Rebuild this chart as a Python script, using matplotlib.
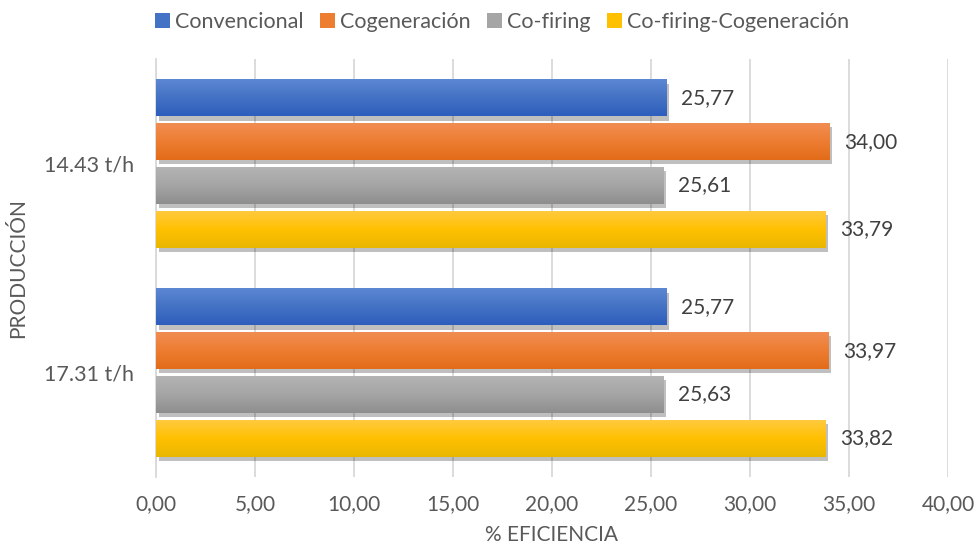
import numpy as np
import matplotlib
matplotlib.use("Agg")
import matplotlib.pyplot as plt
from matplotlib.patches import Patch
from matplotlib.colors import LinearSegmentedColormap
import matplotlib.patheffects as pe

categories = ["14.43 t/h", "17.31 t/h"]
series_names = ["Convencional", "Cogeneración", "Co-firing", "Co-firing-Cogeneración"]
convencional = [25.77, 25.77]
cogeneracion = [34.00, 33.97]
cofiring = [25.61, 25.63]
cofiring_cog = [33.79, 33.82]
values = [convencional, cogeneracion, cofiring, cofiring_cog]
xticks = [0, 5, 10, 15, 20, 25, 30, 35, 40]

base_colors = ["#4472C4", "#ED7D31", "#A5A5A5", "#FFC000"]
grad = [("#5C87D3", "#2E5EBD"), ("#F18D52", "#E26B19"),
        ("#B3B3B3", "#8E8E8E"), ("#FFCA3E", "#E9B700")]

plt.rcParams['font.family'] = ['Lato', 'DejaVu Sans']
txt = "#595959"

fig = plt.figure(figsize=(9.78, 5.5), dpi=100)
ax = fig.add_axes([156/978, 1-477/550, 792/978, 418/550])

pitch = 0.209
h = 0.177
offsets = [-1.5*pitch, -0.5*pitch, 0.5*pitch, 1.5*pitch]
ypos = np.arange(len(categories))

for i, (vals, c, g) in enumerate(zip(values, base_colors, grad)):
    bars = ax.barh(ypos + offsets[i], vals, height=h, color=c, zorder=3,
                   path_effects=[pe.SimplePatchShadow(offset=(2, -3), shadow_rgbFace="#000000", alpha=0.25),
                                 pe.Normal()])
    cmap = LinearSegmentedColormap.from_list("g", [g[0], c, g[1]])
    for b, v in zip(bars, vals):
        y0 = b.get_y()
        im = ax.imshow(np.linspace(0, 1, 64).reshape(-1, 1), cmap=cmap, aspect='auto',
                       extent=[0, v, y0 + h, y0], origin='upper', zorder=4)
        im.set_clip_path(b)
        ax.text(v + 0.75, y0 + h/2, f"{v:.2f}".replace(".", ","), va='center', ha='left',
                fontsize=15, color="#404040", zorder=5)

ax.set_xlim(0, 40)
ax.set_ylim(1.5, -0.5)
ax.set_xticks(xticks)
ax.set_xticklabels([f"{t:.2f}".replace(".", ",") for t in xticks], fontsize=15, color=txt)
ax.set_yticks(ypos)
ax.set_yticklabels(categories, fontsize=15.5, color=txt)
ax.tick_params(axis='x', length=0, pad=12)
ax.tick_params(axis='y', length=0, pad=15.5)
ax.grid(axis='x', color="#D9D9D9", linewidth=1.3, zorder=0)
ax.set_axisbelow(True)
for s in ["top", "right", "bottom"]:
    ax.spines[s].set_visible(False)
ax.spines["left"].set_color("#D9D9D9")
ax.spines["left"].set_linewidth(1.3)

ax.set_xlabel("% EFICIENCIA", fontsize=15, color=txt, labelpad=8)
fig.text(18/978, 1-268/550, "PRODUCCIÓN", rotation=90, fontsize=15, color=txt,
         ha='center', va='center')

handles = [Patch(facecolor=c, edgecolor='none') for c in base_colors]
fig.legend(handles, series_names, loc='center', bbox_to_anchor=(502/978, 1-22/550), ncol=4,
           frameon=False, fontsize=15.5, handlelength=0.7, handleheight=0.7, handletextpad=0.25,
           columnspacing=0.75, labelcolor=txt)

fig.savefig("out.png", dpi=100)
